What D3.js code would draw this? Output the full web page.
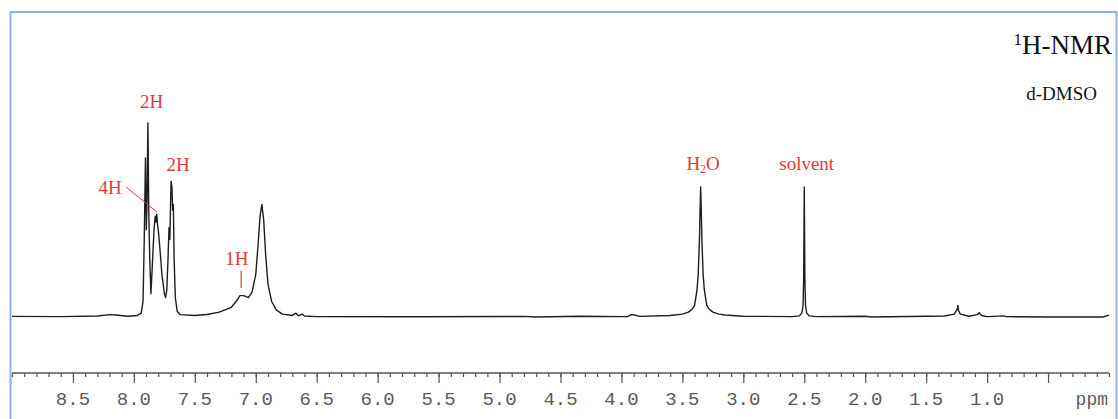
<!DOCTYPE html>
<html>
<head>
<meta charset="utf-8">
<script src="https://cdn.jsdelivr.net/npm/d3@7"></script>
<style>
  body { margin: 0; background: #fff; }
  svg { display: block; }
</style>
</head>
<body>
<svg width="1118" height="419"></svg>
<script>
// spectrum: chemical shift (ppm) and relative intensity
var shifts = [9.00, 8.60, 8.30, 8.20, 8.15, 8.05, 7.97, 7.94, 7.925, 7.915, 7.905, 7.898, 7.892, 7.885, 7.878, 7.87, 7.86,
  7.85, 7.835, 7.825, 7.818, 7.812, 7.805, 7.80, 7.79, 7.77, 7.75, 7.74, 7.73, 7.72, 7.712, 7.705, 7.695, 7.688, 7.682,
  7.676, 7.67, 7.66, 7.645, 7.62, 7.50, 7.40, 7.30, 7.20, 7.15, 7.13, 7.10, 7.06, 7.03, 7.00, 6.98, 6.965, 6.95, 6.935,
  6.92, 6.90, 6.87, 6.83, 6.78, 6.70, 6.67, 6.65, 6.62, 6.60, 6.50, 5.70, 4.80, 4.70, 4.35, 3.95, 3.92, 3.89, 3.85, 3.60,
  3.50, 3.45, 3.42, 3.40, 3.38, 3.37, 3.36, 3.355, 3.35, 3.345, 3.34, 3.33, 3.32, 3.30, 3.28, 3.25, 3.20, 3.15, 3.00,
  2.60, 2.54, 2.52, 2.51, 2.505, 2.50, 2.495, 2.49, 2.48, 2.46, 2.40, 2.00, 1.95, 1.35, 1.27, 1.245, 1.24, 1.235, 1.22,
  1.15, 1.08, 1.065, 1.06, 1.045, 1.00, 0.87, 0.84, 0.50, 0.05, 0.00];
var intensity = [0.3, 0.2, 0.5, 1.2, 1.0, 0.4, 0.8, 2, 8, 40, 82, 45, 60, 100, 55, 30, 12,
  25, 45, 52, 49, 53, 47, 45, 38, 22, 12, 10, 14, 30, 46, 40, 70, 67, 55,
  58, 30, 10, 3, 1.2, 0.8, 1.3, 2.5, 5, 9, 11, 11, 10, 13, 22, 38, 52, 58, 50,
  33, 17, 8, 3.5, 1.5, 0.8, 2, 0.6, 1.5, 0.5, 0.2, 0.1, 0.3, 0, 0.4, 0.2, 1.2, 1.0, 0.3, 0.8,
  1.5, 2.5, 4, 6, 14, 22, 40, 55, 67, 55, 40, 22, 14, 6, 4, 2.5, 1.5, 1, 0.4,
  0.2, 0.6, 2, 6, 20, 67, 20, 6, 2, 0.6, 0.2, 0.4, 0, 0.5, 1.5, 4, 6, 3.5, 1.5,
  0.4, 1.2, 2.2, 1.8, 0.8, 0.2, 0.6, 0.2, 0, 0, 1];

var tickLabels = ["8.5", "8.0", "7.5", "7.0", "6.5", "6.0", "5.5", "5.0", "4.5", "4.0", "3.5", "3.0", "2.5", "2.0", "1.5", "1.0"];

// peak annotations
var annoText = ["2H", "2H", "4H", "1H", "H2O", "solvent"];
var annoPpm = [7.855, 7.637, 8.195, 7.155, 3.33, 2.48];
var annoLevel = [107.7, 75.3, 63.4, 26.8, 75.8, 75.8];

var svg = d3.select("svg");
var red = "#e03a3a";

var x = d3.scaleLinear().domain([9.0, 0.0]).range([12, 1109]),
  y = d3.scaleLinear().domain([0, 100]).range([317, 123]);

// frame
svg.append("rect")
  .attr("x", 10.5).attr("y", 12)
  .attr("width", 1106).attr("height", 430)
  .attr("fill", "none")
  .attr("stroke", "#8fb2e0")
  .attr("stroke-width", 2);

// spectrum
var pts = shifts.map((s, i) => [s, intensity[i]]);
svg.append("path")
  .datum(pts)
  .attr("fill", "none")
  .attr("stroke", "#1e1e1e")
  .attr("stroke-width", 1.4)
  .attr("stroke-linejoin", "round")
  .attr("d", d3.line().x(d => x(d[0])).y(d => y(d[1])));

// axis: minor ticks every 0.1 ppm, major every 0.5 ppm
var minor = d3.range(0, 91).map(i => i / 10);
var major = tickLabels.map(Number).concat([0.5]);

var ax = svg.append("g").attr("transform", "translate(0,373)");
ax.call(d3.axisBottom(x).tickValues(minor).tickSize(4).tickFormat(""))
  .call(g => g.select(".domain").remove());
ax.append("g")
  .call(d3.axisBottom(x).tickValues(major).tickSize(10).tickFormat(""))
  .call(g => g.select(".domain").remove());
ax.append("line")
  .attr("x1", x(9.0)).attr("x2", x(0.0))
  .attr("stroke", "#555").attr("stroke-width", 1.3);
ax.selectAll(".tick line").attr("stroke", "#555").attr("stroke-width", 1.2);

ax.selectAll("text.lab")
  .data(tickLabels)
  .join("text")
  .attr("class", "lab")
  .attr("x", d => x(+d))
  .attr("y", 32)
  .attr("text-anchor", "middle")
  .attr("font-family", "Liberation Mono, Courier New, monospace")
  .attr("font-size", 19)
  .attr("fill", "#5a5a5a")
  .text(d => d);

ax.append("text")
  .attr("x", 1108).attr("y", 32)
  .attr("text-anchor", "end")
  .attr("font-family", "Liberation Mono, Courier New, monospace")
  .attr("font-size", 18)
  .attr("fill", "#5a5a5a")
  .text("ppm");

// annotations
var serif = "Liberation Serif, Times New Roman, serif";
annoText.forEach(function(t, i) {
  var txt = svg.append("text")
    .attr("x", x(annoPpm[i]))
    .attr("y", y(annoLevel[i]))
    .attr("text-anchor", "middle")
    .attr("font-family", serif)
    .attr("font-size", 19)
    .attr("fill", red);
  if (t == "H2O") {
    txt.append("tspan").text("H");
    txt.append("tspan").attr("font-size", 12).attr("dy", 3).text("2");
    txt.append("tspan").attr("dy", -3).text("O");
  } else {
    txt.text(t);
  }
});

// leader for 4H and marker for 1H
svg.append("line")
  .attr("x1", x(8.195) + 16).attr("y1", y(63.4) - 7)
  .attr("x2", x(7.81)).attr("y2", y(54))
  .attr("stroke", red).attr("stroke-width", 1);
svg.append("line")
  .attr("x1", x(7.12)).attr("y1", y(24))
  .attr("x2", x(7.12)).attr("y2", y(15))
  .attr("stroke", red).attr("stroke-width", 1.2);

// titles
var t1 = svg.append("text")
  .attr("x", 1112).attr("y", 54)
  .attr("text-anchor", "end")
  .attr("font-family", serif)
  .attr("font-size", 27)
  .attr("fill", "#111");
t1.append("tspan").attr("font-size", 17).attr("dy", -9).text("1");
t1.append("tspan").attr("dy", 9).text("H-NMR");

svg.append("text")
  .attr("x", 1097).attr("y", 100)
  .attr("text-anchor", "end")
  .attr("font-family", serif)
  .attr("font-size", 19)
  .attr("fill", "#111")
  .text("d-DMSO");
</script>
</body>
</html>
